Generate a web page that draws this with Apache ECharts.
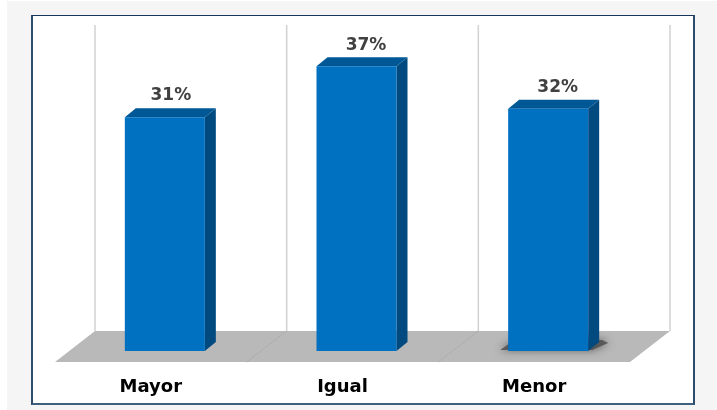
<!DOCTYPE html>
<html><head><meta charset="utf-8">
<script src="https://cdn.jsdelivr.net/npm/echarts@6/dist/echarts.min.js"></script>
<style>
html,body{margin:0;padding:0;background:#fff;width:717px;height:410px;overflow:hidden}
#panel{position:absolute;left:7px;top:1px;width:710px;height:409px;background:#f5f5f5}
#frame{position:absolute;left:31px;top:15px;width:660px;height:387px;background:#fff;border:1px solid #16365a;border-bottom:2px solid #3f5f7f;border-left:2px solid #2c4c6c;border-right:2px solid #2c4c6c;box-sizing:content-box}
#c{position:absolute;left:0;top:0;width:717px;height:410px}
</style></head><body>
<div id="panel"></div><div id="frame"></div><div id="c"></div>
<script>
const categories = ['Mayor', 'Igual', 'Menor'];
const values = [31, 37, 32];
const valueLabels = ['31%', '37%', '32%'];
const floorShadow = [0, 0, 1];

const chart = echarts.init(document.getElementById('c'), null, {renderer: 'canvas'});
const BAR_W = 80, DX = 11, DY = 9;
const FRONT = '#0070c0', TOP = '#005796', SIDE = '#004a80';
const LABEL_DX = [6, 9.5, 9.5], LABEL_DY = [-22, -21, -21];

function renderStage(params, api) {
  const i = api.value(0);
  const c = api.coord([i, 3.5]);
  const top = api.coord([i, 41.85]);
  const w = api.size([1, 0])[0];
  const y0 = c[1];
  const fl = c[0] - w / 2 - 14, fr = c[0] + w / 2 - 14;
  const bl = c[0] - w / 2 + 26, br = c[0] + w / 2 + 26;
  const yF = y0 + 11, yB = y0 - 20;
  const kids = [
    {type: 'polygon', shape: {points: [[fl, yF], [fr, yF], [br, yB], [bl, yB]]},
     style: {fill: '#b9b9b9', stroke: null}},
    {type: 'line', shape: {x1: bl, y1: top[1], x2: bl, y2: yB},
     style: {stroke: '#d2d2d2', lineWidth: 1.5}}
  ];
  if (i > 0) kids.push({type: 'line', shape: {x1: fl, y1: yF, x2: bl, y2: yB},
     style: {stroke: '#a9a9a9', lineWidth: 1}});
  if (i === categories.length - 1) kids.push({type: 'line', shape: {x1: br, y1: top[1], x2: br, y2: yB},
     style: {stroke: '#d2d2d2', lineWidth: 1.5}});
  return {type: 'group', children: kids};
}

function renderBar(params, api) {
  const i = api.value(0);
  const t = api.coord([i, api.value(1)]);
  const b = api.coord([i, 3.5]);
  const l = t[0] - BAR_W / 2, r = t[0] + BAR_W / 2;
  const kids = [];
  if (api.value(2)) {
    kids.push({type: 'polygon',
      shape: {points: [[l - 8, b[1] - 1], [r + 4, b[1] - 1], [r + 20, b[1] - 8], [r + 14, b[1] - 11], [l + 2, b[1] - 8]]},
      style: {fill: 'rgba(75,75,75,0.8)', shadowBlur: 8, shadowColor: 'rgba(50,50,50,0.9)'}});
  }
  kids.push(
    {type: 'polygon', shape: {points: [[r, t[1]], [r + DX, t[1] - DY], [r + DX, b[1] - DY], [r, b[1]]]},
     style: {fill: SIDE}},
    {type: 'polygon', shape: {points: [[l, t[1]], [l + DX, t[1] - DY], [r + DX, t[1] - DY], [r, t[1]]]},
     style: {fill: TOP}},
    {type: 'rect', shape: {x: l, y: t[1], width: BAR_W, height: b[1] - t[1]},
     style: {fill: FRONT}},
    {type: 'text', style: {x: t[0] + LABEL_DX[i], y: t[1] + LABEL_DY[i], text: valueLabels[i], align: 'center', verticalAlign: 'middle',
      fill: '#404040', font: 'bold 17px "DejaVu Sans"'}}
  );
  return {type: 'group', children: kids};
}

chart.setOption({
  animation: false,
  grid: {left: 69, right: 73, top: 25, bottom: 59},
  xAxis: {type: 'category', data: categories,
    axisLine: {show: false}, axisTick: {show: false}, splitLine: {show: false},
    axisLabel: {margin: 27, color: '#000', fontFamily: 'DejaVu Sans', fontWeight: 'bold', fontSize: 18,
      padding: [0, 28, 0, 0], interval: 0}},
  yAxis: {type: 'value', min: 3.5, max: 41.85, show: false},
  series: [
    {type: 'custom', z: 1, clip: false, renderItem: renderStage,
     encode: {x: 0, y: 1}, data: categories.map((_, i) => [i, values[i]]), silent: true},
    {type: 'custom', z: 2, clip: false, renderItem: renderBar,
     encode: {x: 0, y: 1}, data: categories.map((_, i) => [i, values[i], floorShadow[i]])}
  ]
});
</script>
</body></html>
